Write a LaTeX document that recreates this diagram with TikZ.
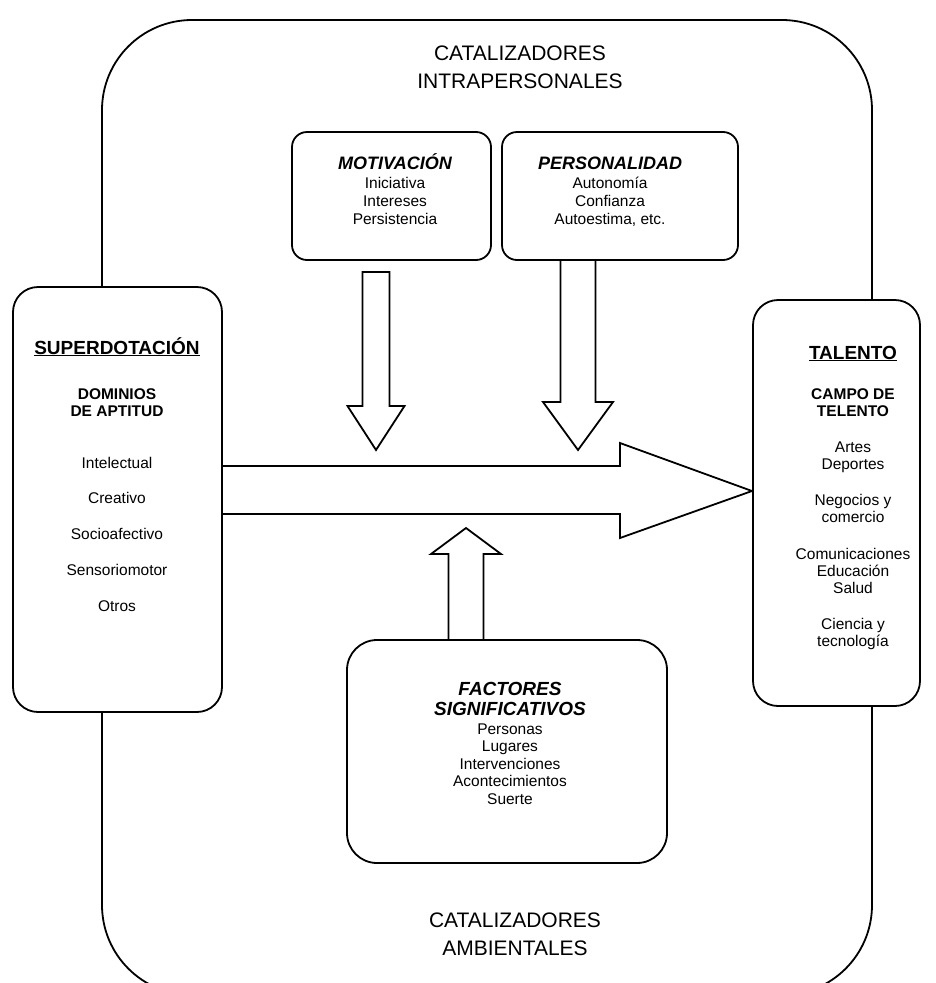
\documentclass[tikz,border=0pt]{standalone}
\usepackage{fontspec}
\setmainfont{Liberation Sans}
\begin{document}
\begin{tikzpicture}[x=1pt,y=-1pt,line width=1.8pt,line join=miter,
  box/.style={draw,fill=white,rounded corners=#1,inner sep=0pt},
  blockarrow/.style={draw,fill=white},
  % multi-line texts are placed by the baseline of their last line
  txt/.style={inner sep=0pt,align=center,anchor=base},
  head/.style={txt,font=\bfseries\fontsize{19}{22}\selectfont},
  sub/.style={txt,font=\bfseries\fontsize{15.5}{17}\selectfont},
  body/.style={txt,font=\fontsize{15.5}{#1}\selectfont},
  body/.default=17,
  ihead/.style={txt,font=\bfseries\itshape\fontsize{#1}{20}\selectfont},
  big/.style={txt,font=\fontsize{21}{28}\selectfont}]
\useasboundingbox (0,0) rectangle (936,983);
\clip (0,0) rectangle (936,983);

% outer frame of the catalysts
\draw[rounded corners=90pt] (102,20) rectangle (872,995);

% block arrows
\draw[blockarrow] (362.5,272) -- (389.5,272) -- (389.5,406) -- (404.5,406)
  -- (376,450) -- (347.5,406) -- (362.5,406) -- cycle;
\draw[blockarrow] (560.5,259) -- (595.5,259) -- (595.5,402) -- (613,402)
  -- (578,450) -- (543,402) -- (560.5,402) -- cycle;
\draw[blockarrow] (222,466) -- (620,466) -- (620,443) -- (752,491)
  -- (620,538) -- (620,514) -- (222,514) -- cycle;
\draw[blockarrow] (448.5,640) -- (448.5,554) -- (431,554) -- (466,528)
  -- (501,554) -- (483.5,554) -- (483.5,640) -- cycle;

% boxes
\node[box=25pt,minimum width=209pt,minimum height=425pt] (sup) at (117.5,499.5) {};
\node[box=25pt,minimum width=167pt,minimum height=406pt] (tal) at (836.5,503) {};
\node[box=15pt,minimum width=199pt,minimum height=128pt] (mot) at (391.5,196) {};
\node[box=15pt,minimum width=236pt,minimum height=128pt] (per) at (620,196) {};
\node[box=30pt,minimum width=320pt,minimum height=223pt] (fac) at (507,751.5) {};

% frame labels
\node[big] (intra) at (520,88) {CATALIZADORES\\INTRAPERSONALES};
\node[big] (amb) at (515,955.5) {CATALIZADORES\\AMBIENTALES};

% giftedness
\node[head] (supT) at (117,354) {\underline{SUPERDOTACIÓN}};
\node[sub] (supS) at (117,416) {DOMINIOS\\DE APTITUD};
\node[body=35.7] (supL) at (117,611) {Intelectual\\Creativo\\Socioafectivo\\Sensoriomotor\\Otros};

% talent
\node[head] (talT) at (853,359) {\underline{TALENTO}};
\node[sub] (talS) at (853,416) {CAMPO DE\\TELENTO};
\node[body] (talL) at (853,646.5) {Artes\\Deportes\\[19.5pt]Negocios y\\comercio\\[19.5pt]Comunicaciones\\Educación\\Salud\\[19.5pt]Ciencia y\\tecnología};

% intrapersonal catalysts
\node[ihead=18] (motT) at (395,169) {MOTIVACIÓN};
\node[body=18.3] (motL) at (395,224.6) {Iniciativa\\Intereses\\Persistencia};
\node[ihead=18] (perT) at (610,169) {PERSONALIDAD};
\node[body=18.3] (perL) at (610,224.6) {Autonomía\\Confianza\\Autoestima, etc.};

% environmental catalysts
\node[ihead=19] (facT) at (510,715) {FACTORES\\SIGNIFICATIVOS};
\node[body=17.5] (facL) at (510,804) {Personas\\Lugares\\Intervenciones\\Acontecimientos\\Suerte};
\end{tikzpicture}
\end{document}
